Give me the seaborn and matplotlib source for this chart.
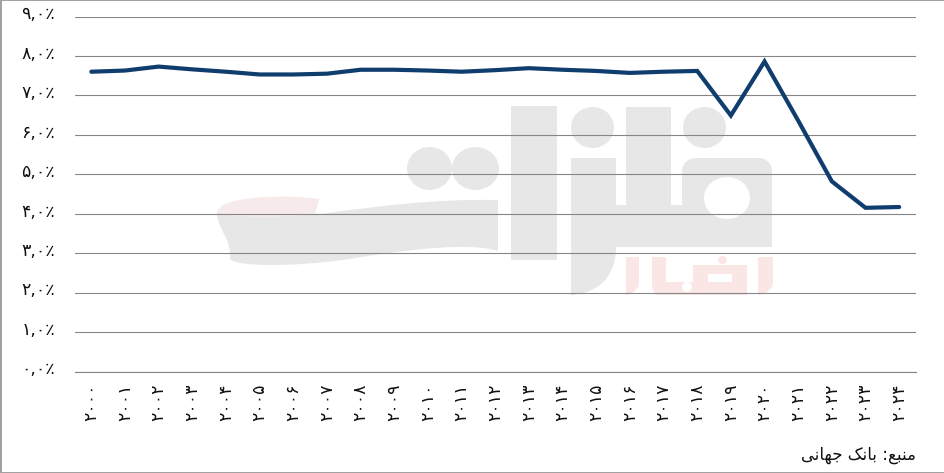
import matplotlib
matplotlib.use('Agg')
import matplotlib.pyplot as plt
import matplotlib.patches as mpatches
from matplotlib.path import Path
from matplotlib.transforms import ScaledTranslation
import seaborn as sns
import pandas as pd
import numpy as np

years = ['۲۰۰۰', '۲۰۰۱', '۲۰۰۲', '۲۰۰۳', '۲۰۰۴', '۲۰۰۵', '۲۰۰۶', '۲۰۰۷', '۲۰۰۸', '۲۰۰۹',
         '۲۰۱۰', '۲۰۱۱', '۲۰۱۲', '۲۰۱۳', '۲۰۱۴', '۲۰۱۵', '۲۰۱۶', '۲۰۱۷', '۲۰۱۸', '۲۰۱۹',
         '۲۰۲۰', '۲۰۲۱', '۲۰۲۲', '۲۰۲۳', '۲۰۲۴']
values = [7.60, 7.63, 7.73, 7.66, 7.60, 7.53, 7.53, 7.55, 7.65, 7.65,
          7.63, 7.60, 7.64, 7.69, 7.65, 7.62, 7.57, 7.60, 7.62, 6.49,
          7.86, 6.36, 4.82, 4.15, 4.17]
y_ticks = [0, 1, 2, 3, 4, 5, 6, 7, 8, 9]
y_labels = ['۰,۰٪', '۱,۰٪', '۲,۰٪', '۳,۰٪', '۴,۰٪', '۵,۰٪', '۶,۰٪', '۷,۰٪', '۸,۰٪', '۹,۰٪']
# matplotlib does no arabic shaping, so this is in visual order with presentation forms
source_text = 'ﯽﻧﺎﻬﺟ ﮏﻧﺎﺑ :ﻊﺒﻨﻣ'

W, H = 945, 473
GRAY = '#e7e7e7'
RED = '#fbe6e6'
PALE_RED = '#f7eaea'

sns.set_theme(style='white')
plt.rcParams['font.family'] = ['DejaVu Sans']

fig = plt.figure(figsize=(W / 100, H / 100), dpi=100)

# background layer in pixel coordinates: frame and watermark
bg = fig.add_axes([0, 0, 1, 1], zorder=0)
bg.set_xlim(0, W)
bg.set_ylim(H, 0)
bg.axis('off')


def box(x0, y0, x1, y1, color=GRAY):
    bg.add_patch(mpatches.Rectangle((x0, y0), x1 - x0, y1 - y0, fc=color, ec='none'))


def circle(x0, y0, x1, y1, color=GRAY):
    bg.add_patch(mpatches.Ellipse(((x0 + x1) / 2, (y0 + y1) / 2), x1 - x0, y1 - y0, fc=color, ec='none'))


def shape(verts, codes, color=GRAY):
    bg.add_patch(mpatches.PathPatch(Path(verts, codes), fc=color, ec='none'))


M, L, C = Path.MOVETO, Path.LINETO, Path.CURVE4

box(511, 106, 557, 260)
circle(571, 107, 614, 148)
box(626, 107, 671, 205)
circle(683, 107, 726, 148)
circle(407, 147, 452, 190)
circle(452, 147, 499, 190)
# qaf body with round top and a hole
shape([(682, 205), (682, 172), (682, 163), (688, 158), (697, 158), (758, 158), (767, 158), (772, 164), (772, 172),
       (772, 247), (682, 247), (682, 205)],
      [M, L, C, C, C, L, C, C, C, L, L, L])
box(616, 205, 684, 247)
box(571, 158, 616, 247)
shape([(571, 247), (616, 247), (616, 275), (600, 293), (571, 295), (571, 247)],
      [M, L, C, C, C, L])
circle(704, 177, 750, 219, 'white')
# swoosh
shape([(320, 214), (380, 206), (430, 199), (498, 200), (498, 251), (470, 242), (410, 249), (343, 260),
       (300, 266), (232, 268), (230, 258), (232, 240), (217, 228), (217, 213), (320, 214)],
      [M, C, C, C, L, C, C, C, C, C, C, C, C, C, L])
shape([(217, 213), (217, 196), (285, 194), (319, 199), (315, 214), (280, 218), (235, 218), (217, 213)],
      [M, C, C, C, L, C, C, C], PALE_RED)
# red word under the logo
box(626, 257, 639, 282, RED)
shape([(626, 282), (639, 282), (639, 290), (632, 294), (626, 295), (626, 282)], [M, L, C, C, C, L], RED)
box(652, 257, 666, 285, RED)
box(656, 282, 747, 295, RED)
shape([(652, 283), (652, 290), (654, 295), (660, 295), (660, 283), (652, 283)], [M, C, C, C, L, L], RED)
box(693, 265, 747, 295, RED)
box(708, 274, 732, 282, 'white')
circle(718, 256, 727, 264, RED)
circle(682, 282, 692, 292, 'white')
box(758, 257, 773, 282, RED)
shape([(758, 282), (773, 282), (773, 290), (765, 294), (758, 295), (758, 282)], [M, L, C, C, C, L], RED)
bg.add_patch(mpatches.Rectangle((0.5, 0.5), W - 1, H - 1, fc='none', ec='#a0a0a0', lw=1.4))

# chart layer
ax = fig.add_axes([74.5 / W, 1 - 371.5 / H, (916 - 74.5) / W, (371.5 - 16.5) / H], zorder=1)
ax.patch.set_alpha(0)

df = pd.DataFrame({'year': years, 'value': values})
sns.lineplot(data=df, x='year', y='value', ax=ax, color='#0f3d6e', linewidth=3.0, sort=False,
             solid_capstyle='round', solid_joinstyle='miter', zorder=3)

ax.set_xlim(-0.5, len(years) - 0.5)
ax.set_ylim(0, 9)
ax.set_xlabel('')
ax.set_ylabel('')
ax.set_yticks(y_ticks)
ax.set_yticklabels(y_labels, fontsize=12.5, color='#111111')
ax.set_xticks(range(len(years)))
ax.set_xticklabels(years, rotation=90, fontsize=12.5, color='#111111')
ax.set_xticks(np.arange(len(years) + 1) - 0.5, minor=True)
ax.tick_params(axis='x', which='major', length=0, pad=8.5)
ax.tick_params(axis='x', which='minor', length=5, width=0.8, color='#868686')
ax.tick_params(axis='y', length=0, pad=14)
ax.grid(axis='y', color='#868686', linewidth=0.8)
ax.set_axisbelow(True)
for side in ['top', 'left', 'right']:
    ax.spines[side].set_visible(False)
ax.spines['bottom'].set_color('#868686')
ax.spines['bottom'].set_linewidth(0.8)

# y labels sit a little above their gridlines in the original
shift = ScaledTranslation(0, 3 / 72, fig.dpi_scale_trans)
for lab in ax.get_yticklabels():
    lab.set_transform(lab.get_transform() + shift)

fig.text(916 / W, 1 - 455 / H, source_text, ha='right', va='center', fontsize=12, color='#111111')

fig.savefig('out.png', dpi=100)
